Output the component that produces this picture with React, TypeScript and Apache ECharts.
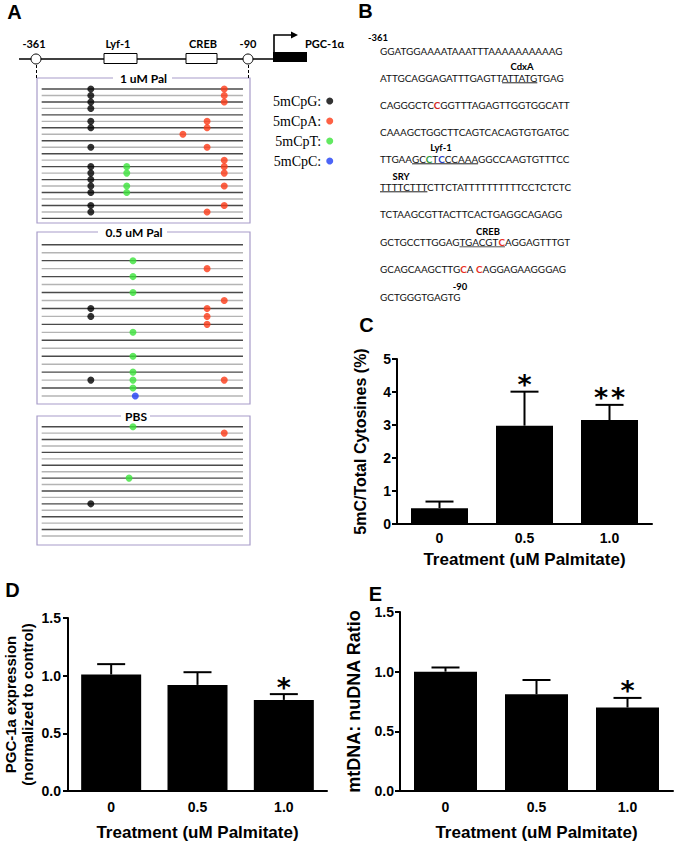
import React, { useEffect, useRef } from 'react';
import * as echarts from 'echarts';

const SANS = '"Liberation Sans", Arial, sans-serif';
const SANS_NAME = 'Liberation Sans';
const CAL = 'Lato';

// ---------------- Panel A : methylation of clones ----------------
const lineStart = -354;
const lineEnd = -96;
const pal1CloneCount = 21;
const pal05CloneCount = 20;
const pbsCloneCount = 18;

const pal1CpG = [[-291, 1], [-291, 2], [-291, 3], [-291, 4], [-291, 6], [-291, 7], [-291, 10], [-291, 13], [-291, 14], [-291, 15], [-291, 16], [-291, 17], [-291, 19], [-291, 20]];
const pal1CpA = [[-120, 1], [-120, 2], [-120, 3], [-142, 6], [-142, 7], [-173, 8], [-142, 10], [-120, 12], [-120, 13], [-120, 14], [-120, 16], [-120, 19], [-142, 20]];
const pal1CpT = [[-245, 13], [-245, 14], [-245, 16], [-245, 17]];
const pal1CpC: number[][] = [];

const pal05CpG = [[-291, 9], [-291, 10], [-291, 18]];
const pal05CpA = [[-142, 4], [-120, 8], [-142, 9], [-142, 10], [-142, 11], [-120, 18]];
const pal05CpT = [[-237, 3], [-237, 5], [-237, 7], [-237, 12], [-237, 15], [-237, 17], [-237, 18], [-237, 19]];
const pal05CpC = [[-234, 20]];

const pbsCpG = [[-291, 13]];
const pbsCpA = [[-120, 2]];
const pbsCpT = [[-237, 1], [-242, 9]];
const pbsCpC: number[][] = [];

const boxTitles = ['1 uM Pal', '0.5 uM Pal', 'PBS'];
const contextNames = ['5mCpG', '5mCpA', '5mCpT', '5mCpC'];
const contextColors = ['#000000', '#fc3a17', '#3be33a', '#1f3ef5'];

// ---------------- Panel B : sequence ----------------
const seqLines = [
  'GGATGGAAAATAAATTTAAAAAAAAAAG',
  'ATTGCAGGAGATTTGAGTTATTATGTGAG',
  'CAGGGCTCCGGTTTAGAGTTGGTGGCATT',
  'CAAAGCTGGCTTCAGTCACAGTGTGATGC',
  'TTGAAGCCTCCCAAAGGCCAAGTGTTTCC',
  'TTTTCTTTCTTCTATTTTTTTTTTCCTCTCTC',
  'TCTAAGCGTTACTTCACTGAGGCAGAGG',
  'GCTGCCTTGGAGTGACGTCAGGAGTTTGT',
  'GCAGCAAGCTTGCA CAGGAGAAGGGAG',
  'GCTGGGTGAGTG',
];
// [line, char index, colour]
const seqColored: [number, number, string][] = [
  [2, 8, '#d0281e'], [4, 7, '#2f9a3c'], [4, 9, '#2a3fc4'],
  [7, 18, '#e8301f'], [8, 12, '#e8301f'], [8, 15, '#e8301f'],
];
// [line, start, end)
const seqUnderlines: [number, number, number][] = [[1, 19, 25], [4, 5, 15], [5, 0, 8], [7, 12, 19]];
const seqSiteLabels = ['-361', 'CdxA', 'Lyf-1', 'SRY', 'CREB', '-90'];

// ---------------- Panels C, D, E ----------------
const treatments = ['0', '0.5', '1.0'];
const cMean = [0.48, 2.98, 3.15];
const cSem = [0.2, 1.03, 0.46];
const cSig = ['', '*', '**'];
const dMean = [1.01, 0.92, 0.79];
const dSem = [0.09, 0.11, 0.05];
const dSig = ['', '', '*'];
const eMean = [1.0, 0.81, 0.7];
const eSem = [0.035, 0.12, 0.08];
const eSig = ['', '', '*'];

const BOX = '#a79cc9';

function txt(text: string, x: number, y: number, font: string, extra: any = {}) {
  return {
    type: 'text', x, y, z: 50, silent: true,
    style: {
      text, font, fill: '#000',
      align: 'center', verticalAlign: 'middle', textAlign: 'center', textVerticalAlign: 'middle',
      ...extra,
    },
  };
}

function sequenceGraphics(): any[] {
  const ctx = document.createElement('canvas').getContext('2d')!;
  ctx.font = `10px ${CAL}`;
  const w10 = ctx.measureText(seqLines[0]).width;
  const size = (10 * 183) / w10;
  const nFont = `${size}px ${CAL}`;
  const bFont = `bold ${size}px ${CAL}`;
  const tw = (s: string, bold: boolean) => { ctx.font = bold ? bFont : nFont; return ctx.measureText(s).width; };
  const x0 = 380;
  const lineY = [51, 78, 105, 132, 159, 187, 214, 242, 269, 297];
  const out: any[] = [];
  seqLines.forEach((line, li) => {
    const colored: Record<number, string> = {};
    seqColored.forEach(([l, i, c]) => { if (l === li) colored[i] = c; });
    const rich: any = { n: { fontSize: size, fontFamily: CAL, fill: '#111', color: '#111' } };
    let s = '';
    let run = '';
    for (let i = 0; i < line.length; i++) {
      if (colored[i]) {
        if (run) { s += `{n|${run}}`; run = ''; }
        const key = 'c' + i;
        rich[key] = { fontSize: size, fontFamily: CAL, fontWeight: 'bold', fill: colored[i], color: colored[i] };
        s += `{${key}|${line[i]}}`;
      } else run += line[i];
    }
    if (run) s += `{n|${run}}`;
    out.push({
      type: 'text', x: x0, y: lineY[li], z: 50, silent: true,
      style: { text: s, rich, font: nFont, fill: '#111', align: 'left', verticalAlign: 'middle', textAlign: 'left', textVerticalAlign: 'middle' },
    });
    const prefix = (upto: number) => {
      let w = 0; let r = ''; let rb = false;
      for (let i = 0; i < upto; i++) {
        const b = !!colored[i];
        if (r && b !== rb) { w += tw(r, rb); r = ''; }
        rb = b; r += line[i];
      }
      if (r) w += tw(r, rb);
      return w;
    };
    seqUnderlines.forEach(([l, a, b]) => {
      if (l !== li) return;
      out.push({
        type: 'line', z: 50, silent: true,
        shape: { x1: x0 + prefix(a), y1: lineY[li] + 4.8, x2: x0 + prefix(b), y2: lineY[li] + 4.8 },
        style: { stroke: l === 7 ? '#555' : '#222', lineWidth: 1 },
      });
    });
  });
  const lf = `bold ${size * 0.95}px ${CAL}`;
  const labelPos = [[378, 37], [522, 66], [441, 147], [401, 176], [488, 231], [460, 286]];
  seqSiteLabels.forEach((t, i) => out.push(txt(t, labelPos[i][0], labelPos[i][1], lf)));
  return out;
}

function buildOption() {
  const boxGridPos = [
    { left: 37, top: 78, width: 213, height: 145 },
    { left: 37, top: 232, width: 213, height: 172 },
    { left: 37, top: 416, width: 213, height: 129 },
  ];
  const boxYRange = [[-0.7, 21.71], [-0.6, 21.0], [-0.66, 19.4]];
  const cloneCounts = [pal1CloneCount, pal05CloneCount, pbsCloneCount];
  const boxDots = [
    [pal1CpG, pal1CpA, pal1CpT, pal1CpC],
    [pal05CpG, pal05CpA, pal05CpT, pal05CpC],
    [pbsCpG, pbsCpA, pbsCpT, pbsCpC],
  ];
  const barGridPos = [
    { left: 397, top: 359, width: 255, height: 165 },
    { left: 68, top: 618, width: 259, height: 173 },
    { left: 400, top: 612, width: 273, height: 179 },
  ];

  const grid: any[] = [
    ...boxGridPos.map((g) => ({ ...g, show: true, borderColor: BOX, borderWidth: 1.2, backgroundColor: 'transparent' })),
    ...barGridPos,
  ];

  const xAxis: any[] = [];
  const yAxis: any[] = [];
  boxGridPos.forEach((_, i) => {
    xAxis.push({ gridIndex: i, type: 'value', min: -360, max: -87, show: false });
    yAxis.push({ gridIndex: i, type: 'value', min: boxYRange[i][0], max: boxYRange[i][1], inverse: true, show: false });
  });

  const labelStyle = { color: '#000', fontFamily: SANS_NAME, fontWeight: 'bold', fontSize: 14 };
  const barCfg = [
    { max: 5, interval: 1, dec: 0, name: '5mC/Total Cytosines (%)', nameSize: 16, nameGap: 28, xMargin: 7, xNameGap: 27, yMargin: 6, barWidth: 57 },
    { max: 1.5, interval: 0.5, dec: 1, name: 'PGC-1a expression\n(normalized to control)', nameSize: 15, nameGap: 32, xMargin: 9, xNameGap: 33, yMargin: 7, barWidth: 60 },
    { max: 1.5, interval: 0.5, dec: 1, name: 'mtDNA: nuDNA Ratio', nameSize: 18, nameGap: 38, xMargin: 9, xNameGap: 33, yMargin: 6, barWidth: 63 },
  ];
  barCfg.forEach((c, k) => {
    const gi = k + 3;
    xAxis.push({
      gridIndex: gi, type: 'category', data: treatments,
      axisLine: { lineStyle: { color: '#000', width: 2 } },
      axisTick: { show: false },
      axisLabel: { ...labelStyle, margin: c.xMargin },
      name: 'Treatment (uM Palmitate)', nameLocation: 'middle', nameGap: c.xNameGap,
      nameTextStyle: { color: '#000', fontFamily: SANS_NAME, fontWeight: 'bold', fontSize: 17 },
    });
    yAxis.push({
      gridIndex: gi, type: 'value', min: 0, max: c.max, interval: c.interval,
      splitLine: { show: false },
      axisLine: { show: true, lineStyle: { color: '#000', width: 2 } },
      axisTick: { show: true, length: 5, lineStyle: { color: '#000', width: 2 } },
      axisLabel: { ...labelStyle, margin: c.yMargin, formatter: (v: number) => v.toFixed(c.dec) },
      name: c.name, nameLocation: 'middle', nameGap: c.nameGap,
      nameTextStyle: { color: '#000', fontFamily: SANS_NAME, fontWeight: 'bold', fontSize: c.nameSize, lineHeight: 17 },
    });
  });

  const series: any[] = [];
  cloneCounts.forEach((n, gi) => {
    const rows: number[][] = [];
    for (let r = 1; r <= n; r++) rows.push([lineStart, r]);
    series.push({
      type: 'custom', xAxisIndex: gi, yAxisIndex: gi, silent: true, z: 1, data: rows,
      renderItem: (_p: any, api: any) => {
        const row = api.value(1);
        const a = api.coord([lineStart, row]);
        const b = api.coord([lineEnd, row]);
        return {
          type: 'line', shape: { x1: a[0], y1: a[1], x2: b[0], y2: b[1] },
          style: { stroke: row % 2 ? '#4a4a4a' : '#b4b4b4', lineWidth: 1.4 },
        };
      },
    });
    boxDots[gi].forEach((d, ci) => {
      series.push({
        type: 'scatter', name: contextNames[ci], xAxisIndex: gi, yAxisIndex: gi, data: d,
        symbol: 'circle', symbolSize: 7, itemStyle: { color: contextColors[ci] }, z: 3, silent: true,
      });
    });
  });

  const barData = [[cMean, cSem, cSig], [dMean, dSem, dSig], [eMean, eSem, eSig]] as [number[], number[], string[]][];
  barData.forEach(([means, sems, sigs], k) => {
    const gi = k + 3;
    series.push({
      type: 'bar', xAxisIndex: gi, yAxisIndex: gi, data: means, barWidth: barCfg[k].barWidth,
      itemStyle: { color: '#000' }, silent: true, z: 2,
    });
    series.push({
      type: 'custom', xAxisIndex: gi, yAxisIndex: gi, silent: true, z: 5,
      data: means.map((m, i) => [i, m, sems[i]]),
      renderItem: (params: any, api: any) => {
        const i = api.value(0); const m = api.value(1); const s = api.value(2);
        const base = api.coord([i, m]);
        const top = api.coord([i, m + s]);
        const ch: any[] = [
          { type: 'line', shape: { x1: base[0], y1: base[1], x2: top[0], y2: top[1] }, style: { stroke: '#000', lineWidth: 2 } },
          { type: 'line', shape: { x1: top[0] - 14, y1: top[1], x2: top[0] + 14, y2: top[1] }, style: { stroke: '#000', lineWidth: 2 } },
        ];
        const sig = sigs[params.dataIndex];
        const n = sig.length;
        for (let j = 0; j < n; j++) {
          ch.push({
            type: 'text', x: top[0] + (j - (n - 1) / 2) * 17, y: top[1] - 7,
            style: { text: '*', fill: '#000', font: 'bold 27px "DejaVu Sans"', align: 'center', verticalAlign: 'middle' },
          });
        }
        return { type: 'group', children: ch };
      },
    });
  });

  const bold = (s: number, fam = CAL) => `bold ${s}px ${fam}`;
  const graphic: any[] = [
    // panel letters
    txt('A', 14.5, 11.5, `bold 20px ${SANS}`),
    txt('B', 365.5, 11, `bold 20px ${SANS}`),
    txt('C', 366.5, 325, `bold 20px ${SANS}`),
    txt('D', 12.5, 590, `bold 20px ${SANS}`),
    txt('E', 375.5, 594, `bold 20px ${SANS}`),
    // promoter diagram
    { type: 'line', z: 40, shape: { x1: 19, y1: 59, x2: 274, y2: 59 }, style: { stroke: '#000', lineWidth: 1.6 } },
    { type: 'rect', z: 41, shape: { x: 104, y: 53.5, width: 33, height: 10 }, style: { fill: '#fff', stroke: '#000', lineWidth: 1 } },
    { type: 'rect', z: 41, shape: { x: 186, y: 53.5, width: 31, height: 10 }, style: { fill: '#fff', stroke: '#000', lineWidth: 1 } },
    { type: 'rect', z: 41, shape: { x: 273, y: 52, width: 34, height: 10 }, style: { fill: '#000' } },
    { type: 'polyline', z: 41, shape: { points: [[274, 53], [274, 35], [292, 35]] }, style: { stroke: '#000', lineWidth: 1.6, fill: null } },
    { type: 'polygon', z: 41, shape: { points: [[298, 35], [291, 31.5], [291, 38.5]] }, style: { fill: '#000' } },
    { type: 'circle', z: 42, shape: { cx: 36, cy: 59, r: 5 }, style: { fill: '#fff', stroke: '#000', lineWidth: 1 } },
    { type: 'circle', z: 42, shape: { cx: 248, cy: 59, r: 5 }, style: { fill: '#fff', stroke: '#000', lineWidth: 1 } },
    { type: 'line', z: 40, shape: { x1: 36.5, y1: 65, x2: 36.5, y2: 78 }, style: { stroke: '#000', lineWidth: 1, lineDash: [3, 2] } },
    { type: 'line', z: 40, shape: { x1: 248.5, y1: 65, x2: 248.5, y2: 78 }, style: { stroke: '#000', lineWidth: 1, lineDash: [3, 2] } },
    txt('-361', 34, 43, bold(11)),
    txt('Lyf-1', 118, 43, bold(11)),
    txt('CREB', 203, 43, bold(11)),
    txt('-90', 248, 43, bold(11)),
    txt('PGC-1α', 305, 43, bold(11), { align: 'left', textAlign: 'left' }),
    // box titles
    { type: 'rect', z: 45, shape: { x: 113, y: 75, width: 59, height: 6 }, style: { fill: '#fff' } },
    { type: 'rect', z: 45, shape: { x: 98, y: 229, width: 69, height: 6 }, style: { fill: '#fff' } },
    { type: 'rect', z: 45, shape: { x: 121, y: 413, width: 29, height: 6 }, style: { fill: '#fff' } },
    txt(boxTitles[0], 143.5, 78, bold(12)),
    txt(boxTitles[1], 134, 232, bold(12)),
    txt(boxTitles[2], 136, 416, bold(12)),
    ...sequenceGraphics(),
  ];

  return {
    animation: false,
    backgroundColor: '#ffffff',
    grid, xAxis, yAxis, series, graphic,
    legend: {
      data: contextNames, left: 268, top: 86, orient: 'vertical', align: 'right',
      icon: 'circle', itemWidth: 7, itemHeight: 7, itemGap: 0, selectedMode: false,
      formatter: '{name}:',
      textStyle: { fontFamily: 'Liberation Serif', fontSize: 14, color: '#000', lineHeight: 20 },
    },
  };
}

export default function App() {
  const ref = useRef<HTMLDivElement>(null);
  useEffect(() => {
    if (!ref.current) return;
    const chart = echarts.init(ref.current, undefined, { renderer: 'svg' });
    chart.setOption(buildOption() as any);
    return () => chart.dispose();
  }, []);
  return <div ref={ref} style={{ position: 'fixed', left: 0, top: 0, width: 675, height: 844, background: '#fff' }} />;
}
